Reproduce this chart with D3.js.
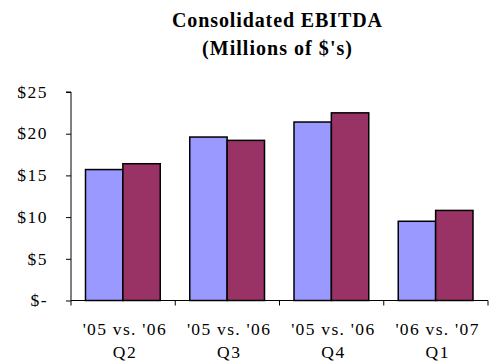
<!DOCTYPE html>
<html><head><meta charset="utf-8">
<script src="https://cdn.jsdelivr.net/npm/d3@7"></script>
<style>body{margin:0;background:#fff}svg{display:block}text{font-family:"Liberation Serif","Times New Roman",Times,"DejaVu Serif",serif}</style>
</head><body>
<script>
const categories = ["'05 vs. '06|Q2", "'05 vs. '06|Q3", "'05 vs. '06|Q4", "'06 vs. '07|Q1"];
const seriesPrior = [15.7, 19.6, 21.4, 9.5];
const seriesCurrent = [16.4, 19.2, 22.5, 10.8];
const yTicks = [0, 5, 10, 15, 20, 25];
const yTickLabels = ["$-", "$5", "$10", "$15", "$20", "$25"];
const titleLines = ["Consolidated EBITDA", "(Millions of $'s)"];

const W = 489, H = 363;
const svg = d3.select("body").append("svg").attr("width", W).attr("height", H);

const x = d3.scaleBand().domain(categories).range([71, 488]).paddingInner(0).paddingOuter(0);
const y = d3.scaleLinear().domain([0, 25]).range([300.5, 92]);
const inner = d3.scaleBand().domain([0, 1]).range([14.5, x.bandwidth() - 15]);

// title
const titleWidths = [210, 150];
svg.selectAll("text.title").data(titleLines).enter().append("text")
  .attr("x", 277).attr("y", (d, i) => 26.5 + i * 28.5)
  .attr("text-anchor", "middle")
  .attr("textLength", (d, i) => titleWidths[i]).attr("lengthAdjust", "spacing")
  .style("font-weight", "bold").style("font-size", "20px").text(d => d);

// bars
const data = categories.map((c, i) => ({c, v: [seriesPrior[i], seriesCurrent[i]]}));
const colors = ["#9999FF", "#993366"];
const g = svg.selectAll("g.grp").data(data).enter().append("g")
  .attr("transform", d => `translate(${x(d.c)},0)`);
g.selectAll("rect").data(d => d.v).enter().append("rect")
  .attr("x", (d, i) => inner(i)).attr("width", inner.bandwidth())
  .attr("y", d => y(d)).attr("height", d => y(0) - y(d))
  .attr("fill", (d, i) => colors[i]).attr("stroke", "#000").attr("stroke-width", 1.5);

// y axis
const yAxis = d3.axisLeft(y).tickValues(yTicks).tickSize(5)
  .tickFormat((d, i) => yTickLabels[i]);
const ya = svg.append("g").attr("transform", "translate(71,0)").call(yAxis);
ya.attr("font-family", null);
ya.select(".domain").attr("stroke", "#000").attr("stroke-width", 1).attr("d", `M-5,${y(25)}H0V${y(0)}`);
ya.selectAll(".tick line").attr("stroke", "#000");
ya.selectAll(".tick text").attr("x", -23).style("font-size", "17.5px").style("letter-spacing", "1.5px")
  .attr("fill", "#000").attr("dy", "0.3em");

// x axis
const xAxis = d3.axisBottom(x).tickSize(0).tickFormat("");
const xa = svg.append("g").attr("transform", `translate(0,${y(0)})`).call(xAxis);
xa.select(".domain").attr("stroke", "#000").attr("stroke-width", 1).attr("d", `M71,0H488`);
const bounds = categories.map(c => x(c)).concat([x.range()[1]]);
xa.selectAll("line.bt").data(bounds).enter().append("line").attr("class", "bt")
  .attr("x1", d => d).attr("x2", d => d).attr("y1", 0).attr("y2", 5).attr("stroke", "#000");
const lineWidths = [83, 23];
categories.forEach(c => {
  const parts = c.split("|");
  parts.forEach((p, i) => svg.append("text").attr("text-anchor", "middle")
    .style("font-size", "17.5px").attr("fill", "#000")
    .attr("textLength", lineWidths[i]).attr("lengthAdjust", "spacing")
    .attr("x", x(c) + x.bandwidth() / 2 + 1).attr("y", 335 + i * 22.5).text(p));
});
</script>
</body></html>
